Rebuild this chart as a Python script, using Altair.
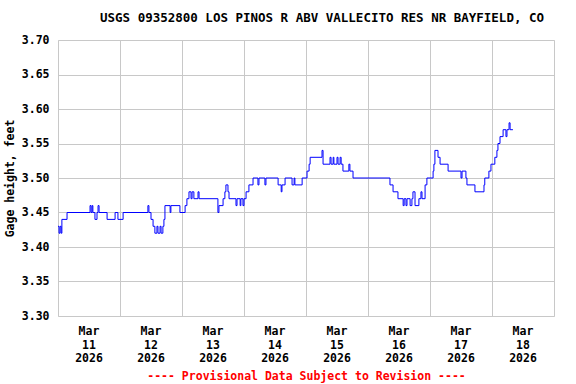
import altair as alt
import pandas as pd

# Gage height steps: hours since 2026-03-11 00:00 and level (ft)
hours = [0.0, 0.4, 0.8, 1.2, 1.5, 3.5, 12.4, 12.8, 13.2, 13.5, 14.3, 15.1, 15.5, 15.9,
         19.0, 22.1, 23.2, 25.2, 34.8, 35.2, 36.0, 36.8, 37.5, 38.3, 38.7, 39.5, 39.9,
         40.6, 41.0, 41.4, 43.4, 43.7, 47.2, 49.2, 49.9, 50.7, 51.5, 51.9, 52.6, 54.2,
         54.6, 61.9, 62.3, 63.9, 64.6, 65.0, 65.8, 66.2, 68.9, 69.3, 70.5, 70.8, 71.6,
         72.0, 72.8, 73.9, 75.5, 77.4, 77.8, 80.1, 80.5, 85.2, 86.4, 86.7, 87.9, 90.6,
         91.4, 91.7, 94.5, 96.4, 97.2, 97.6, 102.2, 102.6, 105.3, 105.7, 106.5, 106.8,
         108.0, 108.4, 109.2, 109.6, 110.3, 112.6, 113.0, 114.2, 128.5, 129.7, 131.6,
         133.6, 134.0, 134.7, 135.1, 136.3, 137.0, 137.4, 138.2, 139.7, 140.5, 140.9,
         142.1, 142.8, 145.2, 145.5, 145.9, 147.1, 147.9, 151.0, 156.0, 156.4, 157.9,
         158.3, 161.4, 164.9, 165.2, 166.8, 167.6, 169.1, 169.9, 170.3, 171.1, 172.3,
         173.4, 173.8, 174.6, 175.0, 176.1]
levels = [3.43, 3.42, 3.43, 3.42, 3.44, 3.45, 3.46, 3.45, 3.46, 3.45, 3.44, 3.45, 3.46, 3.45,
          3.44, 3.45, 3.44, 3.45, 3.46, 3.45, 3.44, 3.43, 3.42, 3.43, 3.42, 3.43, 3.42,
          3.43, 3.44, 3.46, 3.45, 3.46, 3.45, 3.46, 3.47, 3.48, 3.47, 3.48, 3.47, 3.48,
          3.47, 3.45, 3.46, 3.47, 3.48, 3.49, 3.48, 3.47, 3.46, 3.47, 3.46, 3.47, 3.46,
          3.47, 3.48, 3.49, 3.50, 3.49, 3.50, 3.49, 3.50, 3.49, 3.48, 3.49, 3.50, 3.49,
          3.50, 3.49, 3.50, 3.51, 3.52, 3.53, 3.54, 3.52, 3.53, 3.52, 3.53, 3.52,
          3.53, 3.52, 3.53, 3.52, 3.51, 3.52, 3.51, 3.50, 3.49, 3.48, 3.47,
          3.46, 3.47, 3.46, 3.47, 3.46, 3.47, 3.48, 3.46, 3.47, 3.48, 3.47,
          3.49, 3.50, 3.51, 3.52, 3.54, 3.53, 3.52, 3.51, 3.50, 3.51, 3.50,
          3.49, 3.48, 3.49, 3.50, 3.51, 3.52, 3.53, 3.54, 3.55, 3.56, 3.57,
          3.56, 3.57, 3.58, 3.57, 3.57]

days = [11, 12, 13, 14, 15, 16, 17, 18]
day_labels = ["Mar\n11\n2026", "Mar\n12\n2026", "Mar\n13\n2026", "Mar\n14\n2026",
              "Mar\n15\n2026", "Mar\n16\n2026", "Mar\n17\n2026", "Mar\n18\n2026"]
y_ticks = [3.30, 3.35, 3.40, 3.45, 3.50, 3.55, 3.60, 3.65, 3.70]

base = pd.Timestamp("2026-03-11 00:00")
df = pd.DataFrame({
    "time": [(base + pd.Timedelta(hours=h)).strftime("%Y-%m-%dT%H:%M:%S") for h in hours],
    "level": levels,
})
lab_df = pd.DataFrame({
    "time": [pd.Timestamp(2026, 3, d, 12).strftime("%Y-%m-%dT%H:%M:%S") for d in days],
    "label": day_labels,
})

FONT = "DejaVu Sans Mono"
W, H = 496, 276

xscale = alt.Scale(domain=[alt.DateTime(year=2026, month=3, date=11),
                           alt.DateTime(year=2026, month=3, date=19)])

line = alt.Chart(df).mark_line(interpolate="step-after", color="#0000ff",
                               strokeWidth=1).encode(
    x=alt.X("time:T", scale=xscale,
            axis=alt.Axis(values=[alt.DateTime(year=2026, month=3, date=d) for d in range(11, 20)],
                          grid=True, gridColor="#c8c8c8", gridWidth=1,
                          labels=False, ticks=False, domain=False,
                          title="---- Provisional Data Subject to Revision ----",
                          titleColor="#ff0000", titleFont=FONT, titleFontSize=11.5,
                          titleFontWeight="bold", titlePadding=54)),
    y=alt.Y("level:Q", scale=alt.Scale(domain=[3.30, 3.70], nice=False, zero=False),
            axis=alt.Axis(values=y_ticks, format=".2f", grid=True, gridColor="#c8c8c8",
                          ticks=False, domain=False, labelFont=FONT, labelFontSize=11.5,
                          labelFontWeight="bold", labelPadding=9, labelColor="black",
                          title="Gage height, feet", titleFont=FONT, titleFontSize=11.5,
                          titleFontWeight="bold", titlePadding=6)),
)

labels = alt.Chart(lab_df).mark_text(
    font=FONT, fontSize=11.5, fontWeight="bold", baseline="top", align="center",
    lineBreak="\n", lineHeight=13.5, color="black", clip=False,
).encode(
    x=alt.X("time:T", scale=xscale),
    y=alt.value(H + 10),
    text="label:N",
)

chart = alt.layer(line, labels).properties(
    width=W, height=H,
    title=alt.TitleParams("USGS 09352800 LOS PINOS R ABV VALLECITO RES NR BAYFIELD, CO",
                          font=FONT, fontSize=12.5, fontWeight="bold", anchor="middle",
                          offset=10, dx=16, color="black"),
    autosize=alt.AutoSizeParams(type="none"),
    padding={"left": 58, "top": 40, "right": 22, "bottom": 68},
).configure_view(stroke="black", strokeWidth=1).configure(background="white")

chart.save("out.html", embed_options={"renderer": "svg", "actions": False})
